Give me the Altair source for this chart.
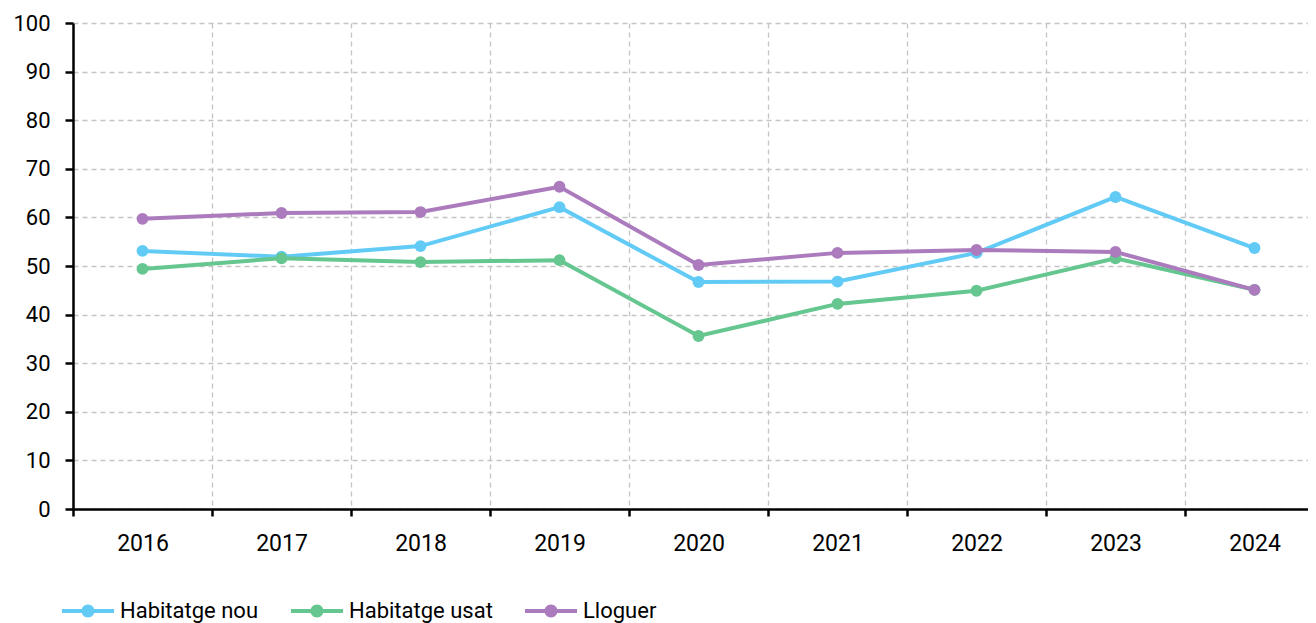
import altair as alt
import pandas as pd

years = [2016, 2017, 2018, 2019, 2020, 2021, 2022, 2023, 2024]
series_names = ["Habitatge nou", "Habitatge usat", "Lloguer"]
habitatge_nou = [53.1, 51.9, 54.1, 62.1, 46.7, 46.8, 52.7, 64.2, 53.7]
habitatge_usat = [49.4, 51.6, 50.8, 51.2, 35.6, 42.2, 44.9, 51.6, 45.1]
lloguer = [59.7, 60.9, 61.1, 66.3, 50.2, 52.7, 53.3, 52.9, 45.1]
colors = ["#61CBF6", "#65C68F", "#AB7BBE"]
y_ticks = list(range(0, 101, 10))
x_bounds = [y - 0.5 for y in years]  # category boundaries (grid lines)

rows = []
for name, vals in zip(series_names, [habitatge_nou, habitatge_usat, lloguer]):
    for yr, v in zip(years, vals):
        rows.append({"year": yr, "serie": name, "value": v})
df = pd.DataFrame(rows)

FONT = "Roboto"
PLOT_W = 1235
BAND = 139.0

x_enc = alt.X(
    "year:Q",
    scale=alt.Scale(domain=[years[0] - 0.5, years[0] - 0.5 + PLOT_W / BAND],
                    nice=False, zero=False),
    axis=alt.Axis(
        title=None,
        values=x_bounds,
        labelExpr="format(datum.value + 0.5, 'd')",
        labelOffset=BAND / 2,
        labelFlush=False,
        labelOverlap=False,
        grid=True,
        gridDash=[5, 4],
        gridColor="#c4c4c4",
        gridWidth=1.3,
        domainColor="black",
        domainWidth=2.5,
        tickColor="black",
        tickWidth=2.5,
        tickSize=7,
        labelPadding=16,
        labelFontSize=23,
        labelFont=FONT,
        labelColor="black",
        labelAngle=0,
    ),
)
y_enc = alt.Y(
    "value:Q",
    scale=alt.Scale(domain=[0, 100], nice=False),
    axis=alt.Axis(
        title=None,
        values=y_ticks,
        grid=True,
        gridDash=[5, 4],
        gridColor="#c4c4c4",
        gridWidth=1.3,
        domainColor="black",
        domainWidth=2.5,
        tickColor="black",
        tickWidth=2.5,
        tickSize=8,
        labelPadding=15,
        labelFontSize=22,
        labelFont=FONT,
        labelColor="black",
    ),
)
color_scale = alt.Scale(domain=series_names, range=colors)

lines = alt.Chart(df).mark_line(strokeWidth=4).encode(
    x=x_enc,
    y=y_enc,
    color=alt.Color("serie:N", scale=color_scale, legend=None),
)

sym = ("M-1,-0.075L-0.24,-0.075L-0.24,0.075L-1,0.075Z "
       "M0.24,-0.075L1,-0.075L1,0.075L0.24,0.075Z "
       "M0.25,0A0.25,0.25,0,1,1,-0.25,0A0.25,0.25,0,1,1,0.25,0Z")

points = alt.Chart(df).mark_point(filled=True, size=140, opacity=1).encode(
    x=x_enc,
    y=y_enc,
    color=alt.Color(
        "serie:N",
        scale=color_scale,
        legend=alt.Legend(
            title=None,
            orient="none",
            direction="horizontal",
            legendX=-11,
            legendY=562,
            symbolType=sym,
            symbolSize=2704,
            symbolStrokeWidth=0,
            symbolOpacity=1,
            labelFont=FONT,
            labelFontSize=22,
            labelColor="black",
            labelOffset=6,
            columnPadding=32,
            labelLimit=400,
        ),
    ),
)

chart = (
    alt.layer(lines, points)
    .resolve_legend(color="independent")
    .properties(
        width=PLOT_W,
        height=486,
        autosize=alt.AutoSizeParams(type="none"),
        padding={"left": 65, "top": 15, "right": 0, "bottom": 114},
    )
    .configure_view(stroke=None)
)

chart.save("out.html", embed_options={"renderer": "svg", "actions": False})
